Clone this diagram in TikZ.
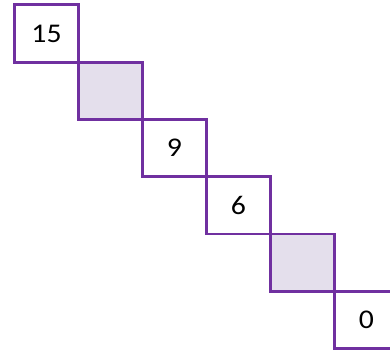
\documentclass[tikz,border=0pt]{standalone}
\usepackage{fontspec}
\setmainfont{Carlito}
\definecolor{cellline}{HTML}{7030A0}
\definecolor{cellfill}{HTML}{E4DFEC}
\begin{document}
\begin{tikzpicture}[x=1pt,y=-1pt,
  cell/.style={draw=cellline, line width=2.8pt, rectangle, minimum width=64pt, minimum height=57.3pt, inner sep=0pt, font=\fontsize{27}{27}\selectfont},
  shaded/.style={cell, fill=cellfill}]
\useasboundingbox (0,0) rectangle (390,352);
\clip (0,0) rectangle (390,352);
\node[cell]   (c1) at (46.5,33.5)    {\raisebox{-3pt}{\scalebox{1.1}[1]{15}}};
\node[shaded] (c2) at (110.5,90.8)   {};
\node[cell]   (c3) at (174.5,148.1)  {\raisebox{-3pt}{\scalebox{1.1}[1]{9}}};
\node[cell]   (c4) at (238.5,205.4)  {\raisebox{-3pt}{\scalebox{1.1}[1]{6}}};
\node[shaded] (c5) at (302.5,262.7)  {};
\node[cell]   (c6) at (366.5,320.0)  {\raisebox{-3pt}{\scalebox{1.1}[1]{0}}};
\end{tikzpicture}
\end{document}
